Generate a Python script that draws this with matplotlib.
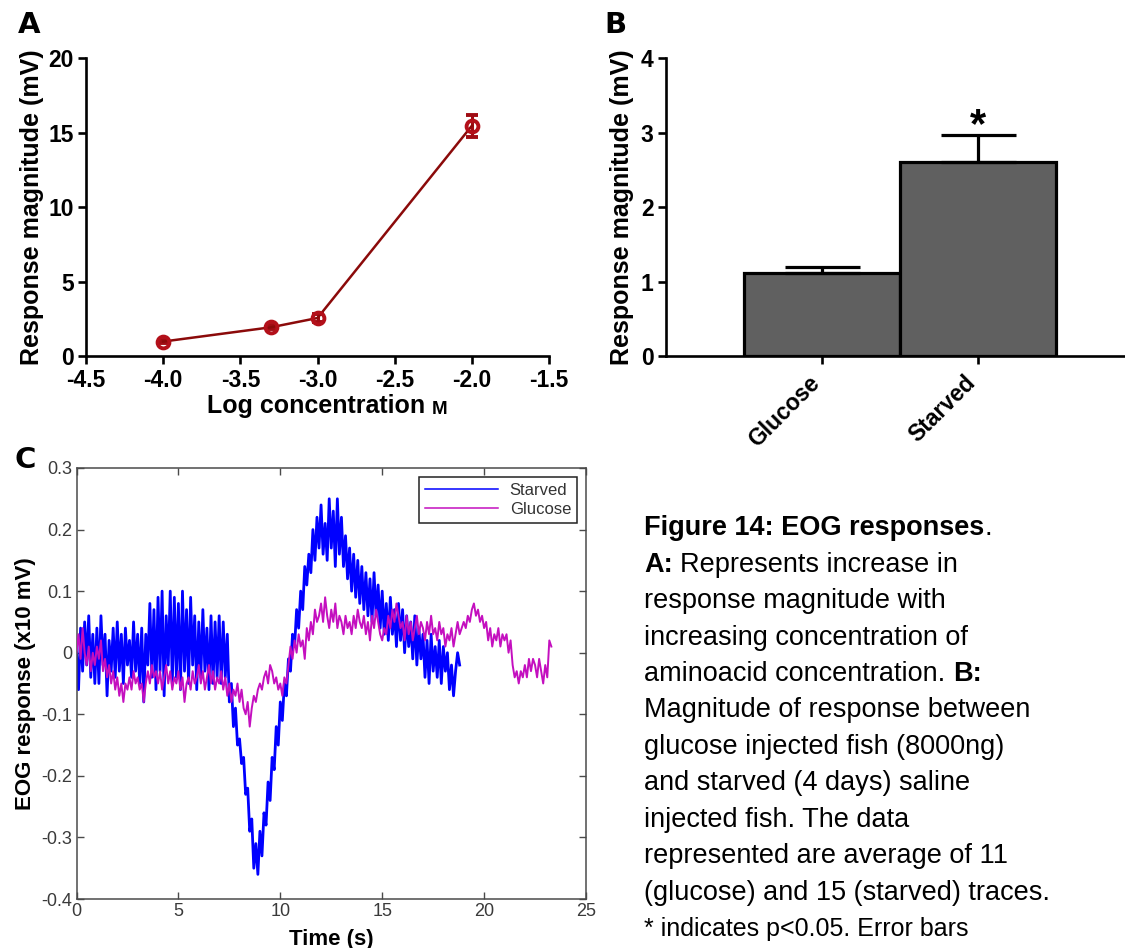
import matplotlib
matplotlib.use('Agg')
import matplotlib.pyplot as plt
from matplotlib.transforms import ScaledTranslation
import numpy as np

plt.rcParams['font.family'] = ['Liberation Sans', 'DejaVu Sans']
plt.rcParams['axes.unicode_minus'] = False

# ---------------- data ----------------
# Panel A
log_conc = [-4.0, -3.3, -3.0, -2.0]
resp_mean = [0.97, 1.93, 2.55, 15.45]
resp_err = [0.12, 0.15, 0.25, 0.73]
a_xticks = [-4.5, -4.0, -3.5, -3.0, -2.5, -2.0, -1.5]
a_xticklabels = ['-4.5', '-4.0', '-3.5', '-3.0', '-2.5', '-2.0', '-1.5']
a_yticks = [0, 5, 10, 15, 20]

# Panel B
groups = ['Glucose', 'Starved']
group_mean = [1.12, 2.60]
group_err = [0.08, 0.36]
b_yticks = [0, 1, 2, 3, 4]

# Panel C (sampled every 0.1 s)
dt = 0.1
starved = [
    0.00, -0.06, 0.04, -0.03, 0.05, -0.02, 0.06, -0.04, 0.03, -0.05,
    0.04, -0.05, 0.06, -0.02, 0.03, -0.07, 0.02, -0.03, 0.04, -0.04,
    0.05, -0.03, 0.03, -0.05, 0.04, -0.02, 0.02, -0.04, 0.05, -0.03,
    0.03, -0.05, 0.04, -0.08, 0.03, -0.02, 0.08, -0.04, 0.07, -0.06,
    0.09, -0.03, 0.10, -0.07, 0.06, -0.02, 0.10, -0.05, 0.09, -0.04,
    0.08, -0.06, 0.10, -0.03, 0.07, -0.05, 0.09, -0.02, 0.06, -0.06,
    0.05, -0.04, 0.07, -0.03, 0.04, -0.06, 0.06, -0.05, 0.05, -0.04,
    0.06, -0.05, 0.05, -0.04, 0.03, -0.08, -0.05, -0.12, -0.09, -0.15,
    -0.14, -0.18, -0.17, -0.23, -0.22, -0.29, -0.27, -0.35, -0.31, -0.36,
    -0.29, -0.33, -0.26, -0.28, -0.21, -0.24, -0.17, -0.19, -0.12, -0.15,
    -0.08, -0.11, -0.05, -0.07, -0.01, -0.03, 0.03, 0.01, 0.07, 0.04,
    0.10, 0.07, 0.14, 0.11, 0.16, 0.13, 0.20, 0.15, 0.22, 0.17,
    0.24, 0.16, 0.21, 0.15, 0.25, 0.17, 0.23, 0.14, 0.25, 0.16,
    0.22, 0.14, 0.19, 0.12, 0.17, 0.10, 0.16, 0.09, 0.15, 0.08,
    0.14, 0.07, 0.13, 0.06, 0.12, 0.05, 0.13, 0.06, 0.11, 0.04,
    0.10, 0.03, 0.08, 0.02, 0.09, 0.03, 0.07, 0.01, 0.08, 0.02,
    0.07, 0.00, 0.06, 0.01, 0.05, -0.01, 0.06, -0.02, 0.04, -0.01,
    0.03, -0.04, 0.02, -0.05, 0.03, -0.03, 0.01, -0.04, 0.02, -0.05,
    0.01, -0.03, 0.00, -0.06, -0.02, -0.07, -0.03, 0.00, -0.02,
]
glucose = [
    0.00, 0.03, -0.01, 0.04, 0.00, -0.02, 0.01, -0.03, 0.00, -0.02,
    0.01, -0.01, 0.02, -0.03, -0.01, -0.04, -0.02, -0.05, -0.03, -0.06,
    -0.04, -0.07, -0.05, -0.08, -0.05, -0.06, -0.04, -0.06, -0.03, -0.05,
    -0.04, -0.06, -0.05, -0.08, -0.05, -0.03, -0.05, -0.02, -0.04, -0.03,
    -0.05, -0.03, -0.06, -0.04, -0.02, -0.05, -0.03, -0.06, -0.04, -0.05,
    -0.03, -0.06, -0.04, -0.08, -0.05, -0.04, -0.06, -0.03, -0.05, -0.04,
    -0.02, -0.05, -0.03, -0.06, -0.04, -0.02, -0.05, -0.03, -0.06, -0.04,
    -0.05, -0.03, -0.06, -0.04, -0.07, -0.05, -0.08, -0.06, -0.07, -0.05,
    -0.08, -0.06, -0.09, -0.10, -0.08, -0.12, -0.09, -0.07, -0.08, -0.06,
    -0.05, -0.06, -0.04, -0.03, -0.05, -0.02, -0.03, -0.05, -0.04, -0.06,
    -0.05, -0.07, -0.04, -0.05, -0.02, 0.01, -0.01, 0.02, 0.00, 0.03,
    0.01, 0.02, -0.01, 0.04, 0.02, 0.05, 0.03, 0.07, 0.05, 0.06,
    0.08, 0.05, 0.09, 0.06, 0.04, 0.07, 0.05, 0.08, 0.04, 0.06,
    0.05, 0.03, 0.06, 0.04, 0.05, 0.03, 0.06, 0.04, 0.07, 0.05,
    0.04, 0.06, 0.03, 0.05, 0.02, 0.06, 0.04, 0.07, 0.05, 0.03,
    0.02, 0.04, 0.03, 0.06, 0.04, 0.07, 0.05, 0.08, 0.06, 0.04,
    0.05, 0.02, 0.06, 0.03, 0.05, 0.02, 0.04, 0.06, 0.03, 0.05,
    0.04, 0.02, 0.05, 0.03, 0.06, 0.03, 0.04, 0.02, 0.05, 0.03,
    0.04, 0.01, 0.03, 0.02, 0.04, 0.01, 0.03, 0.05, 0.03, 0.04,
    0.05, 0.04, 0.06, 0.05, 0.07, 0.08, 0.06, 0.07, 0.05, 0.06,
    0.04, 0.05, 0.02, 0.04, 0.01, 0.03, 0.02, 0.04, 0.01, 0.03,
    0.02, 0.03, 0.00, 0.02, -0.02, -0.04, -0.03, -0.05, -0.03, -0.04,
    -0.02, -0.04, -0.01, -0.03, -0.01, -0.02, -0.04, -0.01, -0.03, -0.05,
    -0.02, -0.04, 0.02, 0.01,
]
c_xticks = [0, 5, 10, 15, 20, 25]
c_yticks = [0.3, 0.2, 0.1, 0.0, -0.1, -0.2, -0.3, -0.4]
c_yticklabels = ['0.3', '0.2', '0.1', '0', '-0.1', '-0.2', '-0.3', '-0.4']

caption_lines = [
    [('Figure 14: EOG responses', 'bold', 0), ('.', 'normal', 0)],
    [('A:', 'bold', 0), ('Represents increase in', 'normal', 1)],
    [('response magnitude with', 'normal', 0)],
    [('increasing concentration of', 'normal', 0)],
    [('aminoacid concentration.', 'normal', 0), ('B:', 'bold', 1)],
    [('Magnitude of response between', 'normal', 0)],
    [('glucose injected fish (8000ng)', 'normal', 0)],
    [('and starved (4 days) saline', 'normal', 0)],
    [('injected fish. The data', 'normal', 0)],
    [('represented are average of 11', 'normal', 0)],
    [('(glucose) and 15 (starved) traces.', 'normal', 0)],
    [('* indicates p<0.05. Error bars', 'normal', 0)],
]

# ---------------- figure ----------------
W, H = 1125, 948
fig = plt.figure(figsize=(W / 100, H / 100), dpi=100)
overlay = fig.add_axes([0, 0, 1, 1])
overlay.axis('off')
overlay.set_zorder(-1)


def px(x, y):
    return x / W, 1 - y / H


dark_red = '#8b0a0a'
spine_lw = 1.9
tick_fs = 16.5

# ---- Panel A ----
axA = fig.add_axes([86 / W, 1 - 356 / H, 463 / W, 298 / H])
axA.errorbar(log_conc, resp_mean, yerr=resp_err, color=dark_red, lw=1.8,
             marker='o', ms=8.5, mfc='none', mec='#b3101a', mew=2.8,
             ecolor='#a00c14', elinewidth=2.2, capsize=4.5, capthick=2.2,
             clip_on=False, zorder=3)
axA.set_xlim(-4.5, -1.5)
axA.set_ylim(0, 20)
axA.set_xticks(a_xticks)
axA.set_xticklabels(a_xticklabels)
axA.set_yticks(a_yticks)
for s in ['top', 'right']:
    axA.spines[s].set_visible(False)
for s in ['left', 'bottom']:
    axA.spines[s].set_linewidth(spine_lw)
axA.tick_params(direction='out', length=6, width=spine_lw, labelsize=tick_fs, pad=3)
for lab in axA.get_xticklabels() + axA.get_yticklabels():
    lab.set_fontweight('bold')
axA.set_ylabel('Response magnitude (mV)', fontsize=18, fontweight='bold', labelpad=3)
xl = overlay.text(*px(207, 406), 'Log concentration', fontsize=18, fontweight='bold',
                  ha='left', va='center')
overlay.annotate('M', xy=(1, 0), xycoords=xl, xytext=(5, 0), textcoords='offset points',
                 fontsize=13.5, fontweight='bold', ha='left', va='bottom')

# ---- Panel B ----
bx0 = 666
unit = 156
axB = fig.add_axes([bx0 / W, 1 - 356 / H, (W - bx0) / W, 298 / H])
xpos = np.arange(len(groups))
axB.bar(xpos, group_mean, width=1.0, color='#606060', edgecolor='black', linewidth=2.3, zorder=2)
axB.errorbar(xpos, group_mean, yerr=[[0] * len(groups), group_err], fmt='none',
             ecolor='black', elinewidth=2.3, capsize=27, capthick=2.3, zorder=3)
axB.text(1, group_mean[1] + group_err[1] - 0.14, '*', ha='center', va='bottom',
         fontsize=30, fontweight='bold')
axB.set_xlim(-1, (W - bx0) / unit - 1)
axB.set_ylim(0, 4)
axB.set_yticks(b_yticks)
axB.set_xticks(xpos)
axB.set_xticklabels(groups, rotation=45, ha='right', va='top', rotation_mode='anchor')
for s in ['top', 'right']:
    axB.spines[s].set_visible(False)
for s in ['left', 'bottom']:
    axB.spines[s].set_linewidth(spine_lw)
axB.tick_params(direction='out', length=6, width=spine_lw, labelsize=tick_fs, pad=3)
for lab in axB.get_xticklabels() + axB.get_yticklabels():
    lab.set_fontweight('bold')
shift = ScaledTranslation(-0.14, -0.03, fig.dpi_scale_trans)
for lab in axB.get_xticklabels():
    lab.set_transform(lab.get_transform() + shift)
axB.set_ylabel('Response magnitude (mV)', fontsize=18, fontweight='bold', labelpad=5)

# ---- Panel C ----
axC = fig.add_axes([76.5 / W, 1 - 899 / H, 509.5 / W, 431 / H])
t_s = np.arange(len(starved)) * dt
t_g = np.arange(len(glucose)) * dt
axC.plot(t_s, starved, color='#0000ff', lw=2.0, label='Starved', zorder=2)
axC.plot(t_g, glucose, color='#c40fbf', lw=1.4, label='Glucose', zorder=3)
axC.set_xlim(0, 25)
axC.set_ylim(-0.4, 0.3)
axC.set_xticks(c_xticks)
axC.set_yticks(c_yticks)
axC.set_yticklabels(c_yticklabels)
for s in axC.spines.values():
    s.set_color('#4a4a4a')
    s.set_linewidth(1.1)
axC.tick_params(direction='in', top=True, right=True, length=5, width=1,
                color='#4a4a4a', labelcolor='#3a3a3a', labelsize=13, pad=3)
axC.set_xlabel('Time (s)', fontsize=16, fontweight='bold', labelpad=6)
axC.set_ylabel('EOG response (x10 mV)', fontsize=16, fontweight='bold', labelpad=4)
leg = axC.legend(loc='upper right', fontsize=12, handlelength=4.4, frameon=True,
                 fancybox=False, framealpha=1, edgecolor='#222222',
                 borderaxespad=0.55, labelspacing=0.25, handletextpad=0.7,
                 borderpad=0.35)
for txt in leg.get_texts():
    txt.set_color('#333333')
for ln in leg.get_lines():
    ln.set_linewidth(1.1)
leg.get_frame().set_linewidth(1.1)

# ---- Panel labels ----
for lab, (x, y) in zip(['A', 'B', 'C'], [(18, 11), (604, 11), (15, 446)]):
    overlay.text(*px(x, y), lab, fontsize=21, fontweight='bold', family='DejaVu Sans',
                 ha='left', va='top')

# ---- Caption ----
cap_x = 644
cap_y = [528, 565, 601, 638, 674, 710, 747, 783, 820, 856, 893, 929]
for i, (segs, y) in enumerate(zip(caption_lines, cap_y)):
    size = 18 if i == len(caption_lines) - 1 else 19.5
    prev = None
    for txt, w, gap in segs:
        if prev is None:
            prev = overlay.text(*px(cap_x, y), txt, fontsize=size, fontweight=w,
                                ha='left', va='center')
        else:
            prev = overlay.annotate(txt, xy=(1, 0.5), xycoords=prev,
                                    xytext=(gap * 0.278 * size, 0), textcoords='offset points',
                                    fontsize=size, fontweight=w, ha='left', va='center')

fig.savefig('out.png', dpi=100)
